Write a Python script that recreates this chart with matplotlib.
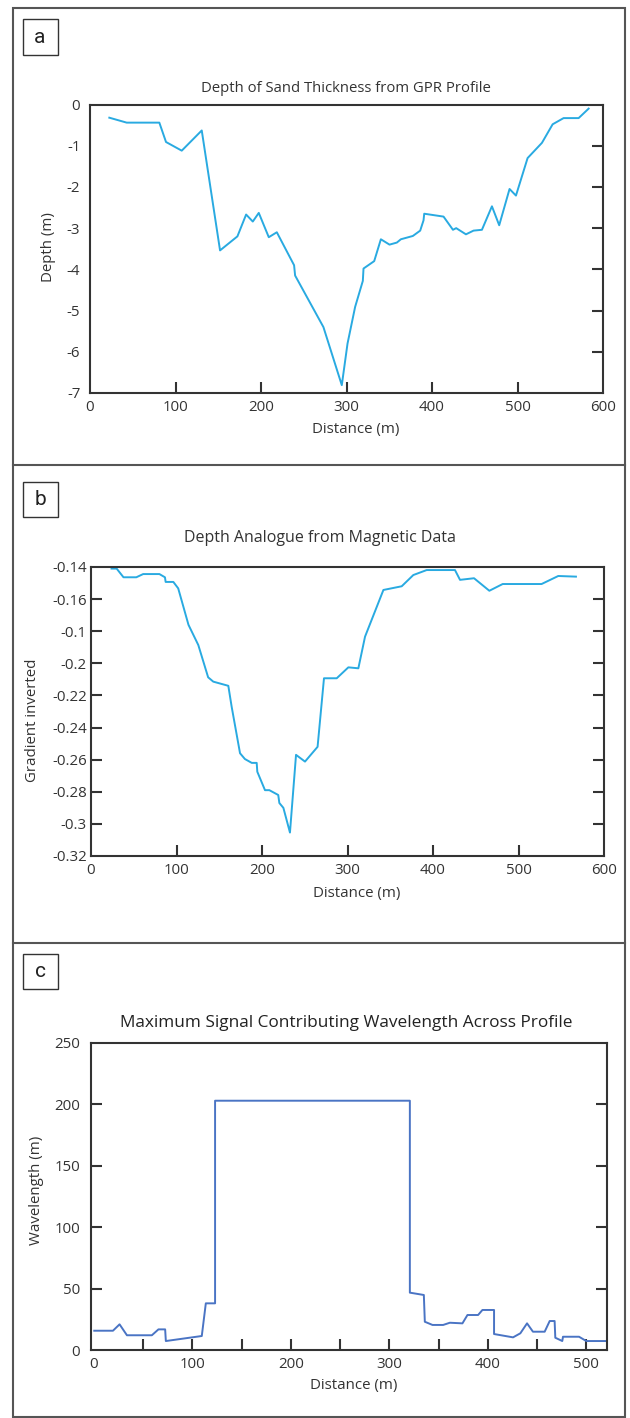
import matplotlib
matplotlib.use("Agg")
import matplotlib.pyplot as plt
from matplotlib.patches import Rectangle
from matplotlib.lines import Line2D

# ---- data -----------------------------------------------------------------
gpr_dist = [22.6, 42.9, 81.1, 88.9, 107.3, 130.7, 152.1, 172.4, 182.6, 190.4,
            197.4, 209.1, 218.5, 238.7, 239.9, 273.0, 294.5, 301.2, 310.1, 319.1,
            319.9, 332.4, 340.2, 350.3, 358.9, 363.6, 377.6, 386.2, 390.1, 390.9,
            413.5, 424.5, 428.3, 439.7, 448.6, 458.4, 470.1, 478.6, 490.7, 498.2,
            511.8, 528.6, 541.1, 553.9, 571.5, 583.2]
gpr_depth = [-0.32, -0.44, -0.44, -0.91, -1.12, -0.63, -3.54, -3.20, -2.67, -2.84,
             -2.63, -3.22, -3.10, -3.90, -4.15, -5.40, -6.81, -5.80, -4.91, -4.28,
             -3.98, -3.80, -3.27, -3.40, -3.35, -3.27, -3.19, -3.06, -2.81, -2.65,
             -2.72, -3.04, -3.00, -3.15, -3.06, -3.04, -2.47, -2.93, -2.05, -2.21,
             -1.30, -0.93, -0.48, -0.33, -0.33, -0.10]

mag_dist = [24, 30, 38, 53, 61, 80, 86.5, 87.3, 96.3, 102, 114, 125.5, 137, 143,
            160.6, 164.5, 174.3, 180, 188, 193.8, 194.5, 203.5, 208.6, 219, 220.3,
            225, 232.7, 239.8, 250.3, 265, 272.5, 287.4, 301, 312.7, 320.5, 342,
            363.4, 377, 392.6, 425.7, 431.6, 448, 465.9, 481.5, 527, 546.5, 567.2]
mag_grad = [-0.141, -0.141, -0.1464, -0.1464, -0.1444, -0.1444, -0.1464, -0.1493,
            -0.1493, -0.1533, -0.176, -0.1886, -0.2087, -0.2114, -0.214, -0.227,
            -0.256, -0.2596, -0.262, -0.262, -0.2675, -0.279, -0.279, -0.282,
            -0.287, -0.290, -0.3054, -0.257, -0.2612, -0.252, -0.2093, -0.2093,
            -0.2025, -0.2031, -0.1834, -0.1543, -0.152, -0.145, -0.1419, -0.1419,
            -0.148, -0.147, -0.1548, -0.1506, -0.1506, -0.1456, -0.146]

wl_dist = [0.3, 19.3, 26, 33.5, 58.8, 65.5, 72.3, 73, 109.5, 113.6, 123, 123,
           320.8, 320.8, 335, 336, 343.8, 354.6, 361.4, 374.2, 379.3, 390.1,
           394.5, 406.3, 406.3, 425.6, 433, 439.8, 445.8, 457.7, 462.8, 467.8,
           468.5, 475.6, 476.3, 492.6, 500, 521]
wl_val = [15.7, 15.7, 20.9, 12, 12, 16.8, 16.8, 7.3, 11.4, 38, 38, 203, 203,
          46.7, 44.8, 23, 20.4, 20.4, 22.2, 21.7, 28.5, 28.5, 32.6, 32.6, 13,
          10.3, 13.6, 21.7, 14.9, 14.9, 23.6, 23.6, 10, 7.3, 10.8, 10.8, 7.3, 7.3]

a_xticks = [0, 100, 200, 300, 400, 500, 600]
a_yticks = [0, -1, -2, -3, -4, -5, -6, -7]
b_yticks = [-0.14, -0.16, -0.18, -0.20, -0.22, -0.24, -0.26, -0.28, -0.30, -0.32]
b_ylabels = ['-0.14', '-0.16', '-0.1', '-0.2', '-0.22', '-0.24', '-0.26',
             '-0.28', '-0.3', '-0.32']
c_xticks = [0, 100, 200, 300, 400, 500]
c_yticks = [0, 50, 100, 150, 200, 250]

# ---- styling --------------------------------------------------------------
plt.rcParams['font.family'] = ['Open Sans', 'DejaVu Sans']
plt.rcParams['axes.unicode_minus'] = False
TXT = '#333333'
SPINE = '#333333'
CYAN = '#29aae1'
BLUE = '#4a74c4'

W, H = 630, 1418
fig = plt.figure(figsize=(W / 100, H / 100), dpi=100)


def fx(x):
    return x / W


def fy(y):
    return 1 - y / H


def make_axes(left, top, right, bottom, ypad):
    ax = fig.add_axes([fx(left), fy(bottom), fx(right - left), (bottom - top) / H])
    for s in ax.spines.values():
        s.set_linewidth(1.5)
        s.set_color(SPINE)
    # labels sit on major ticks of zero length; visible marks are minor ticks
    ax.xaxis.remove_overlapping_locs = False
    ax.yaxis.remove_overlapping_locs = False
    ax.tick_params(which='major', length=0, labelsize=10.8, labelcolor=TXT)
    ax.tick_params(axis='x', which='major', pad=5)
    ax.tick_params(axis='y', which='major', pad=ypad)
    ax.tick_params(which='minor', direction='in', length=8, width=1.5, color=SPINE)
    return ax


# outer frame and panel separators
frame_kw = dict(color='#555555', lw=1.5, transform=fig.transFigure)
fig.add_artist(Rectangle((fx(13), fy(1417)), fx(625 - 13), (1417 - 7.5) / H,
                         fill=False, ec='#555555', lw=1.5, transform=fig.transFigure))
for ysep in (465, 943):
    fig.add_artist(Line2D([fx(13), fx(625)], [fy(ysep), fy(ysep)], **frame_kw))

# panel letter boxes
for letter, (x0, y0, x1, y1) in zip(['a', 'b', 'c'],
                                    [(22.5, 19.5, 57.5, 55), (22.5, 482, 57.5, 517),
                                     (22.5, 953.5, 58, 989)]):
    fig.add_artist(Rectangle((fx(x0), fy(y1)), fx(x1 - x0), (y1 - y0) / H,
                             fill=False, ec=SPINE, lw=1.0, transform=fig.transFigure))
    fig.text(fx((x0 + x1) / 2), fy((y0 + y1) / 2), letter, ha='center', va='center',
             fontsize=15, color='#222222', family='Roboto')

# ---- panel a ---------------------------------------------------------------
ax = make_axes(90, 104.5, 603, 393, ypad=7)
ax.plot(gpr_dist, gpr_depth, color=CYAN, lw=1.4)
ax.set_xlim(0, 600)
ax.set_ylim(-7, 0)
ax.set_xticks(a_xticks)
ax.set_xticklabels([str(v) for v in a_xticks])
ax.set_yticks(a_yticks)
ax.set_yticklabels([str(v) for v in a_yticks])
ax.set_xticks(a_xticks[1:-1], minor=True)
ax.set_yticks(a_yticks[1:-1], minor=True)
ax.tick_params(axis='y', which='minor', left=False, right=True)
ax.tick_params(axis='x', which='minor', bottom=True)
fig.text(fx(346), fy(88), 'Depth of Sand Thickness from GPR Profile', ha='center',
         va='center', fontsize=10.7, color=TXT)
fig.text(fx(356), fy(430), 'Distance (m)', ha='center', va='center', fontsize=10.8, color=TXT)
fig.text(fx(48), fy(247), 'Depth (m)', ha='center', va='center', rotation=90,
         fontsize=10.8, color=TXT)

# ---- panel b ---------------------------------------------------------------
ax = make_axes(91, 567, 604, 856, ypad=3)
ax.plot(mag_dist, mag_grad, color=CYAN, lw=1.4)
ax.set_xlim(0, 600)
ax.set_ylim(-0.32, -0.14)
ax.set_xticks(a_xticks)
ax.set_xticklabels([str(v) for v in a_xticks])
ax.set_yticks(b_yticks)
ax.set_yticklabels(b_ylabels)
ax.set_xticks(a_xticks[1:-1], minor=True)
ax.set_yticks(b_yticks[1:-1], minor=True)
ax.tick_params(axis='y', which='minor', left=True, right=True)
ax.tick_params(axis='x', which='minor', bottom=True)
fig.text(fx(320), fy(538), 'Depth Analogue from Magnetic Data', ha='center',
         va='center', fontsize=11.5, color=TXT)
fig.text(fx(357), fy(893), 'Distance (m)', ha='center', va='center', fontsize=10.8, color=TXT)
fig.text(fx(32), fy(720), 'Gradient inverted', ha='center', va='center', rotation=90,
         fontsize=10.8, color=TXT)

# ---- panel c ---------------------------------------------------------------
ax = make_axes(91, 1043, 607, 1350, ypad=8)
ax.plot(wl_dist, wl_val, color=BLUE, lw=1.4)
ax.set_xlim(-3, 521)
ax.set_ylim(0, 250)
ax.set_xticks(c_xticks)
ax.set_xticklabels([str(v) for v in c_xticks])
ax.set_yticks(c_yticks)
ax.set_yticklabels([str(v) for v in c_yticks])
ax.set_xticks(list(range(50, 501, 50)), minor=True)
ax.set_yticks(c_yticks[1:-1], minor=True)
ax.tick_params(axis='y', which='minor', left=True, right=True)
ax.tick_params(axis='x', which='minor', bottom=True)
fig.text(fx(346), fy(1023), 'Maximum Signal Contributing Wavelength Across Profile',
         ha='center', va='center', fontsize=12.4, color='#222222')
fig.text(fx(354), fy(1386), 'Distance (m)', ha='center', va='center', fontsize=10.8, color=TXT)
fig.text(fx(37), fy(1190), 'Wavelength (m)', ha='center', va='center', rotation=90,
         fontsize=10.8, color=TXT)

fig.savefig('out.png', dpi=100)
